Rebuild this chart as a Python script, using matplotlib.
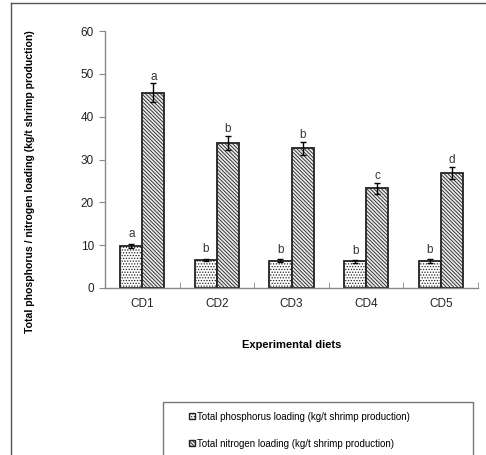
import matplotlib.pyplot as plt
import matplotlib.patches as mpatches
from matplotlib.lines import Line2D
import numpy as np

# ------------------------------------------------------------------ #
#                               Data                                 #
# ------------------------------------------------------------------ #

diets = ['CD1', 'CD2', 'CD3', 'CD4', 'CD5']
phos = [9.8, 6.5, 6.4, 6.2, 6.3]
phos_err = [0.5, 0.3, 0.3, 0.3, 0.4]
phos_letters = ['a', 'b', 'b', 'b', 'b']
nitro = [45.6, 33.9, 32.6, 23.3, 26.9]
nitro_err = [2.2, 1.7, 1.6, 1.3, 1.4]
nitro_letters = ['a', 'b', 'b', 'c', 'd']

phos_label = 'Total phosphorus loading (kg/t shrimp production)'
nitro_label = 'Total nitrogen loading (kg/t shrimp production)'

# ------------------------------------------------------------------ #
#                               Plot                                 #
# ------------------------------------------------------------------ #

plt.rcParams['font.family'] = ['Liberation Sans', 'DejaVu Sans']
plt.rcParams['hatch.color'] = '#9a9a9a'
plt.rcParams['hatch.linewidth'] = 0.6

PHOS_HATCH = '......'
NITRO_HATCH = '\\\\\\\\\\\\\\\\\\'

W, H = 486, 455
fig = plt.figure(figsize=(W / 100, H / 100), dpi=100)
ax = fig.add_axes([105 / W, 1 - 288 / H, (478 - 105) / W, (288 - 31) / H])

x = np.arange(len(diets))
bw = 0.295
ax.bar(x - bw / 2, phos, bw, color='white', edgecolor='#222222', linewidth=1.3,
       hatch=PHOS_HATCH, label=phos_label)
ax.bar(x + bw / 2, nitro, bw, color='#e8e8e8', edgecolor='#222222', linewidth=1.3,
       hatch=NITRO_HATCH, label=nitro_label)
ax.errorbar(x - bw / 2, phos, yerr=phos_err, fmt='none', ecolor='black',
            elinewidth=1.0, capsize=2.5, capthick=1.0)
ax.errorbar(x + bw / 2, nitro, yerr=nitro_err, fmt='none', ecolor='black',
            elinewidth=1.0, capsize=2.5, capthick=1.0)

for i in range(len(diets)):
    ax.text(x[i] - bw / 2, phos[i] + phos_err[i] + 0.8, phos_letters[i],
            ha='center', va='bottom', fontsize=8.5, color='#333333')
    ax.text(x[i] + bw / 2, nitro[i] + nitro_err[i] + 0.1, nitro_letters[i],
            ha='center', va='bottom', fontsize=8.5, color='#333333')

ax.set_xlim(-0.5, len(diets) - 0.5)
ax.set_ylim(0, 60)
ax.set_yticks(range(0, 61, 10))
ax.set_xticks(x)
ax.set_xticklabels(diets)
ax.set_xticks(np.arange(-0.5, len(diets), 1), minor=True)
ax.tick_params(axis='x', which='major', length=0, pad=7, labelsize=8.5, labelcolor='#222222')
ax.tick_params(axis='x', which='minor', length=4, direction='in', color='#888888')
ax.tick_params(axis='y', length=4, color='#888888', labelsize=8.5, labelcolor='#222222', pad=4)

for s in ['top', 'right']:
    ax.spines[s].set_visible(False)
for s in ['left', 'bottom']:
    ax.spines[s].set_color('#888888')
    ax.spines[s].set_linewidth(1.0)

ax.set_xlabel('Experimental diets', fontsize=8, fontweight='bold', labelpad=22)
fig.text(30 / W, 1 - 182 / H, 'Total phosphorus / nitrogen loading (kg/t shrimp production)',
         rotation=90, ha='center', va='center', fontsize=7.6, fontweight='bold')

# outer frame (left + top edges)
fig.add_artist(Line2D([10.5 / W, 10.5 / W], [0, 1 - 3 / H], color='#555555', lw=1.0))
fig.add_artist(Line2D([10.5 / W, 1], [1 - 3 / H, 1 - 3 / H], color='#555555', lw=1.0))

# legend box (runs off the bottom)
fig.add_artist(Line2D([163 / W, 163 / W, 473 / W, 473 / W],
                      [0, 1 - 402 / H, 1 - 402 / H, 0], color='#777777', lw=1.0))

handles = [mpatches.Patch(facecolor='white', edgecolor='#222222', hatch=PHOS_HATCH, lw=1.0),
           mpatches.Patch(facecolor='#e8e8e8', edgecolor='#222222', hatch=NITRO_HATCH, lw=1.0)]
fig.legend(handles, [phos_label, nitro_label], loc='upper left',
           bbox_to_anchor=(180 / W, 1 - 403 / H), frameon=False, fontsize=7,
           handlelength=0.6, handleheight=0.6, handletextpad=0.2, labelspacing=1.75)

fig.savefig('out.png', dpi=100)
